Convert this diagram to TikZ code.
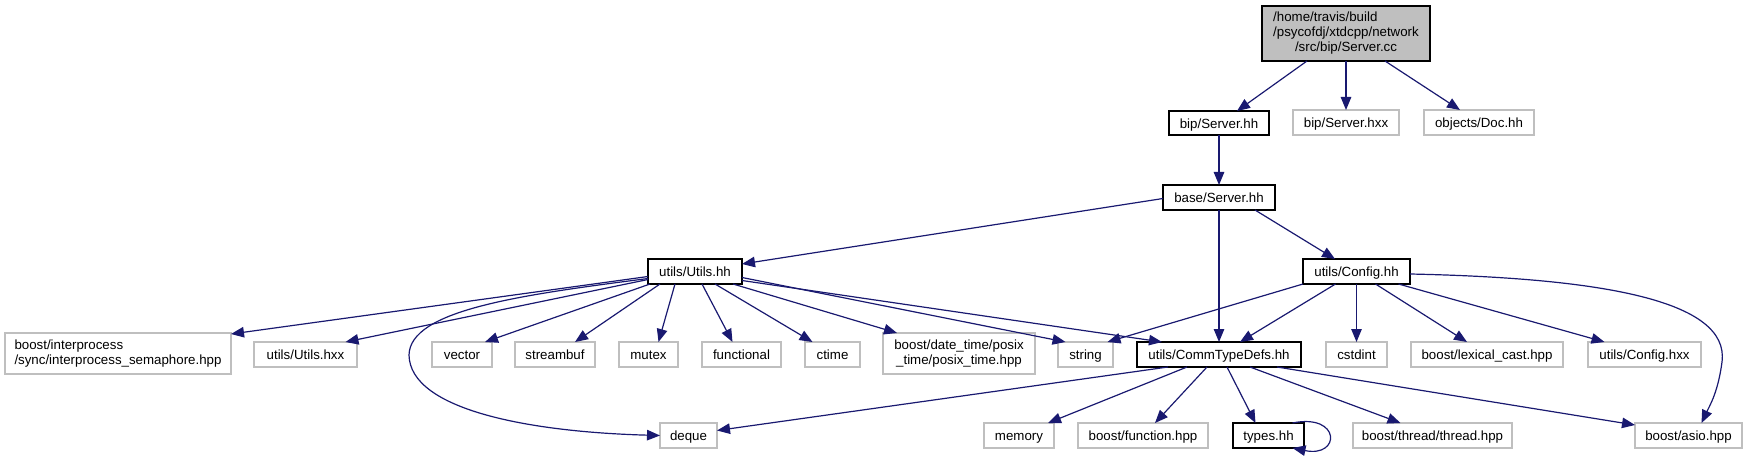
\documentclass[tikz,border=0pt]{standalone}
\usepackage{fontspec}
\setmainfont{Liberation Sans}
\usetikzlibrary{arrows.meta}
\definecolor{edgeblue}{HTML}{191970}
\definecolor{boxgray}{HTML}{BFBFBF}
\begin{document}
\begin{tikzpicture}[x=1pt,y=-1pt,
  nodebox/.style={rectangle, inner sep=0pt, outer sep=0pt, font=\fontsize{13.3}{15}\selectfont, line width=1.2pt},
  graybox/.style={nodebox, draw=boxgray},
  blackbox/.style={nodebox, draw=black, line width=1.6pt},
  rootbox/.style={nodebox, draw=black, fill=boxgray, line width=1.6pt},
  oneline/.style={text height=13pt, text depth=2.6pt},
  sz/.style 2 args={minimum width=#1pt, minimum height=#2pt},
  dep/.style={draw=edgeblue, line width=1.2pt, -{Triangle[length=13pt,width=10.5pt]}}]
\useasboundingbox (0,0) rectangle (1747,457);

% nodes
\node[rootbox, sz={168}{55}] (cc) at (1346,33.5) {\begin{tabular}{@{}l@{}}/home/travis/build\\/psycofdj/xtdcpp/network\\\multicolumn{1}{@{}c@{}}{/src/bip/Server.cc}\end{tabular}};
\node[blackbox, oneline, sz={100}{24}] (biphh) at (1219,123) {bip/Server.hh};
\node[graybox, oneline, sz={106}{25}] (biphxx) at (1346,122.5) {bip/Server.hxx};
\node[graybox, oneline, sz={110}{25}] (doc) at (1479,122.5) {objects/Doc.hh};
\node[blackbox, oneline, sz={112}{25}] (baseserver) at (1219,197.5) {base/Server.hh};
\node[blackbox, oneline, sz={94}{25}] (utils) at (695,271.5) {utils/Utils.hh};
\node[blackbox, oneline, sz={107}{25}] (config) at (1356.5,271.5) {utils/Config.hh};

\node[graybox, sz={226}{41}] (interproc) at (118,353.5) {\begin{tabular}{@{}l@{}}boost/interprocess\\/sync/interprocess\_semaphore.hpp\end{tabular}};
\node[graybox, oneline, sz={103}{25}] (utilshxx) at (305.5,354.5) {utils/Utils.hxx};
\node[graybox, oneline, sz={60}{25}] (vector) at (462,354.5) {vector};
\node[graybox, oneline, sz={80}{25}] (streambuf) at (555,354.5) {streambuf};
\node[graybox, oneline, sz={59}{25}] (mutex) at (648.5,354.5) {mutex};
\node[graybox, oneline, sz={79}{25}] (functional) at (741.5,354.5) {functional};
\node[graybox, oneline, sz={55}{25}] (ctime) at (832.5,354.5) {ctime};
\node[graybox, sz={152}{41}] (datetime) at (959,353.5) {\begin{tabular}{@{}l@{}}boost/date\_time/posix\\\multicolumn{1}{@{}c@{}}{\_time/posix\_time.hpp}\end{tabular}};
\node[graybox, oneline, sz={55}{25}] (string) at (1085.5,354.5) {string};
\node[blackbox, oneline, sz={164}{25}] (ctd) at (1219,354.5) {utils/CommTypeDefs.hh};
\node[graybox, oneline, sz={61}{25}] (cstdint) at (1356.5,354.5) {cstdint};
\node[graybox, oneline, sz={152}{25}] (lexical) at (1487,354.5) {boost/lexical\_cast.hpp};
\node[graybox, oneline, sz={113}{25}] (confighxx) at (1644.5,354.5) {utils/Config.hxx};

\node[graybox, oneline, sz={57}{25}] (deque) at (688.5,435.5) {deque};
\node[graybox, oneline, sz={70}{25}] (memory) at (1019,435.5) {memory};
\node[graybox, oneline, sz={130}{25}] (function) at (1143,435.5) {boost/function.hpp};
\node[blackbox, oneline, sz={71}{25}] (types) at (1268.5,435.5) {types.hh};
\node[graybox, oneline, sz={159}{25}] (thread) at (1432.5,435.5) {boost/thread/thread.hpp};
\node[graybox, oneline, sz={107}{25}] (asio) at (1688.5,435.5) {boost/asio.hpp};

% edges from Server.cc
\draw[dep] ([xshift=-39pt]cc.south) -- ([xshift=18pt]biphh.north);
\draw[dep] (cc.south) -- (biphxx.north);
\draw[dep] ([xshift=39pt]cc.south) -- ([xshift=-19pt]doc.north);
\draw[dep] (biphh.south) -- (baseserver.north);

% edges from base/Server.hh
\draw[dep] ([yshift=-1pt]baseserver.west) -- ([yshift=7.5pt]utils.east);
\draw[dep] (baseserver.south) -- (ctd.north);
\draw[dep] ([xshift=36pt]baseserver.south) -- ([xshift=-21.5pt]config.north);

% edges from utils/Utils.hh
\draw[dep] ([yshift=-5pt]utils.west) -- ([yshift=-1pt]interproc.north east);
\draw[dep] ([yshift=-8pt]utils.west) -- ([xshift=40pt]utilshxx.north);
\draw[dep] ([yshift=-7pt]utils.west) .. controls (520,295) and (410,310) .. (409,355) .. controls (410,410) and (530,432) .. (deque.west);
\draw[dep] ([xshift=2pt]utils.south west) -- ([xshift=23pt]vector.north);
\draw[dep] ([xshift=-35pt]utils.south) -- ([xshift=20pt]streambuf.north);
\draw[dep] ([xshift=-20pt]utils.south) -- ([xshift=10pt]mutex.north);
\draw[dep] ([xshift=7pt]utils.south) -- ([xshift=-9pt]functional.north);
\draw[dep] ([xshift=20pt]utils.south) -- ([xshift=-20pt]ctime.north);
\draw[dep] ([xshift=38pt]utils.south) -- ([xshift=-62pt]datetime.north);
\draw[dep] ([yshift=-6pt]utils.east) -- ([xshift=-20pt]string.north);
\draw[dep] ([yshift=-9pt]utils.east) -- ([xshift=-57pt]ctd.north);

% edges from utils/Config.hh
\draw[dep] (config.south west) -- ([xshift=22pt]string.north);
\draw[dep] ([xshift=-21pt]config.south) -- ([xshift=21pt]ctd.north);
\draw[dep] (config.south) -- (cstdint.north);
\draw[dep] ([xshift=19pt]config.south) -- ([xshift=-20pt]lexical.north);
\draw[dep] ([xshift=42pt]config.south) -- ([xshift=-40pt]confighxx.north);
\draw[dep] ([yshift=-2.5pt]config.east) .. controls (1600,278) and (1730,300) .. (1722,362) .. controls (1718,392) and (1710,405) .. ([xshift=13pt]asio.north);

% edges from utils/CommTypeDefs.hh
\draw[dep] ([xshift=-51pt]ctd.south) -- ([yshift=5pt]deque.east);
\draw[dep] ([xshift=-32pt]ctd.south) -- ([xshift=29pt]memory.north);
\draw[dep] ([xshift=-12pt]ctd.south) -- ([xshift=12pt]function.north);
\draw[dep] ([xshift=8pt]ctd.south) -- ([xshift=-13pt]types.north);
\draw[dep] ([xshift=31pt]ctd.south) -- ([xshift=-32pt]thread.north);
\draw[dep] ([xshift=58pt]ctd.south) -- ([yshift=-2pt]asio.north west);

% self loop on types.hh
\draw[dep] ([xshift=24pt]types.north) .. controls (1341,413) and (1341,458) .. ([xshift=24pt]types.south);
\end{tikzpicture}
\end{document}
